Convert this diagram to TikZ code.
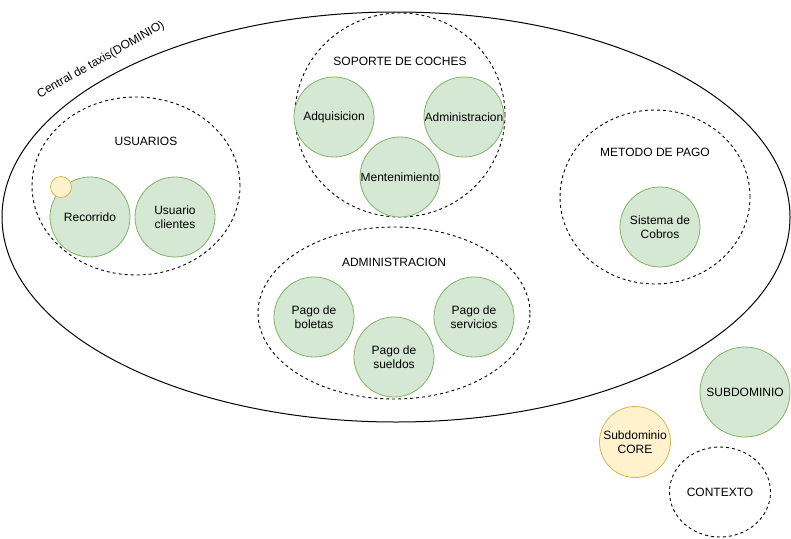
\documentclass[tikz,border=0pt]{standalone}
\usepackage{fontspec}
\setmainfont{Liberation Sans}
\usetikzlibrary{shapes.geometric}
\definecolor{sub fill}{HTML}{D5E8D4}
\definecolor{sub edge}{HTML}{82B366}
\definecolor{core fill}{HTML}{FFF2CC}
\definecolor{core edge}{HTML}{D6B656}
\tikzset{every node/.style={font=\fontsize{12}{14}\selectfont, align=center},
    zone/.style={ellipse, draw, line width=0.9pt, dash pattern=on 3pt off 3pt, inner sep=0pt},
    subdom/.style={circle, fill=sub fill, draw=sub edge, line width=0.8pt, inner sep=0pt, minimum size=80pt},
    coredom/.style={circle, fill=core fill, draw=core edge, line width=0.8pt, inner sep=0pt}}

\begin{document}
\begin{tikzpicture}[x=1pt, y=-1pt]
    \useasboundingbox (0,0) rectangle (791,538);
    % dominio
    \node[ellipse, draw, line width=1pt, inner sep=0pt, minimum width=788pt, minimum height=410pt] (dominio) at (396,217) {};
    \node[rotate=29.5] (dominiolbl) at (101,60) {Central de taxis(DOMINIO)};
    % usuarios
    \node[zone, minimum width=208pt, minimum height=178pt] (usuarios) at (136,186) {};
    \node (usuarioslbl) at (146,141) {USUARIOS};
    \node[subdom] (recorrido) at (90,217) {Recorrido};
    \node[subdom] (clientes) at (175,217) {Usuario\\clientes};
    \node[coredom, minimum size=21pt] (marca) at (61,187) {};
    % soporte de coches
    \node[zone, minimum width=210pt, minimum height=204pt] (soporte) at (400,115) {};
    \node (soportelbl) at (400,61) {SOPORTE DE COCHES};
    \node[subdom] (adquisicion) at (334,117) {Adquisicion};
    \node[subdom] (admincoches) at (464,117) {Administracion};
    \node[subdom] (mantenimiento) at (400,177) {Mentenimiento};
    % administracion
    \node[zone, minimum width=272pt, minimum height=172pt] (admin) at (394,313) {};
    \node (adminlbl) at (394,262) {ADMINISTRACION};
    \node[subdom] (boletas) at (314,317) {Pago de\\boletas};
    \node[subdom] (sueldos) at (394,357) {Pago de\\sueldos};
    \node[subdom] (servicios) at (474,317) {Pago de\\servicios};
    % metodo de pago
    \node[zone, minimum width=190pt, minimum height=174pt] (pago) at (655,197) {};
    \node (pagolbl) at (655,152) {METODO DE PAGO};
    \node[subdom] (cobros) at (660,227) {Sistema de\\Cobros};
    % leyenda
    \node[subdom, minimum size=90pt] (leysub) at (745,392) {SUBDOMINIO};
    \node[coredom, minimum size=71pt] (leycore) at (635,442) {Subdominio\\CORE};
    \node[zone, minimum width=101pt, minimum height=90pt] (leyctx) at (720,492) {CONTEXTO};
\end{tikzpicture}
\end{document}
